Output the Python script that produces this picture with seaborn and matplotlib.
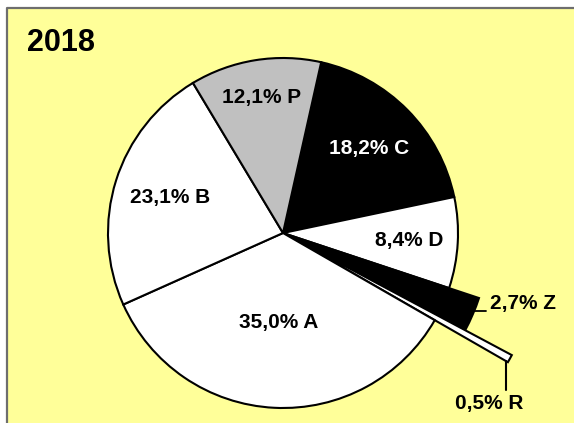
import matplotlib
matplotlib.use("Agg")
import matplotlib.pyplot as plt
import matplotlib.patches as mpatches
import seaborn as sns
import numpy as np

# data, clockwise from the top right
labels = ["C", "D", "Z", "R", "A", "B", "P"]
shares = [18.2, 8.4, 2.7, 0.5, 35.0, 23.1, 12.1]
year = "2018"

# styles
colors = ["black", "white", "black", "white", "white", "white", "#C0C0C0"]
text_colors = ["white", "black", "black", "black", "black", "black", "black"]
radii = [1.0, 1.0, 1.18, 1.47, 1.0, 1.0, 1.0]
explode = [0, 0, 0, 0.012, 0, 0, 0]
label_dist = [0.69, 0.72, None, None, 0.51, 0.675, 0.785]

sns.set_theme(style="white")
plt.rcParams["font.family"] = ["Liberation Sans", "DejaVu Sans"]
plt.rcParams["text.color"] = "black"

W, H = 574, 423
cx, cy, rpx = 283, 233, 175
fig = plt.figure(figsize=(W / 100, H / 100), dpi=100)
fig.patch.set_facecolor("white")

# yellow chart area with gray border on top/left
bg = fig.add_axes([0, 0, 1, 1])
bg.set_xlim(0, W)
bg.set_ylim(H, 0)
bg.axis("off")
bg.add_patch(mpatches.Rectangle((7, 9), W, H, facecolor="#FFFF99",
                                edgecolor="none"))
bg.plot([7, 7, W], [H, 8.5, 8.5], color="#6E6E6E", lw=1.6,
        solid_capstyle="butt")

ax = fig.add_axes([0, 0, 1, 1])
ax.set_facecolor("none")
wedges, _ = ax.pie(shares, colors=colors, startangle=77.4, counterclock=False,
                   explode=explode,
                   wedgeprops=dict(edgecolor="black", linewidth=1.5))
for w, r in zip(wedges, radii):
    w.set_radius(r)
ax.set_xlim(-cx / rpx, (W - cx) / rpx)
ax.set_ylim(-(H - cy) / rpx, cy / rpx)
ax.axis("off")

fs = 15
for w, lab, s, d, tc in zip(wedges, labels, shares, label_dist, text_colors):
    txt = f"{s:.1f}".replace(".", ",") + "% " + lab
    mid = np.deg2rad((w.theta1 + w.theta2) / 2)
    if d is not None:
        ax.text(d * np.cos(mid), d * np.sin(mid), txt, ha="center",
                va="center", fontsize=fs, fontweight="bold", color=tc)
    elif lab == "Z":
        y0 = -78 / rpx
        ax.plot([192 / rpx, 203 / rpx], [y0, y0], color="black", lw=1.3)
        ax.text(207 / rpx, -70 / rpx, txt, ha="left", va="center",
                fontsize=fs, fontweight="bold", color=tc)
    else:
        tip = np.deg2rad(w.theta1)
        tx, ty = w.r * np.cos(tip), w.r * np.sin(tip)
        ax.plot([tx, tx], [ty, -157 / rpx], color="black", lw=1.5)
        ax.text(tx - 17 / rpx, -170 / rpx, txt, ha="center", va="center",
                fontsize=fs, fontweight="bold", color=tc)

fig.text(27 / W, 1 - 43 / H, year, ha="left", va="center", fontsize=22,
         fontweight="bold", color="black")

fig.savefig("out.png", dpi=100)
